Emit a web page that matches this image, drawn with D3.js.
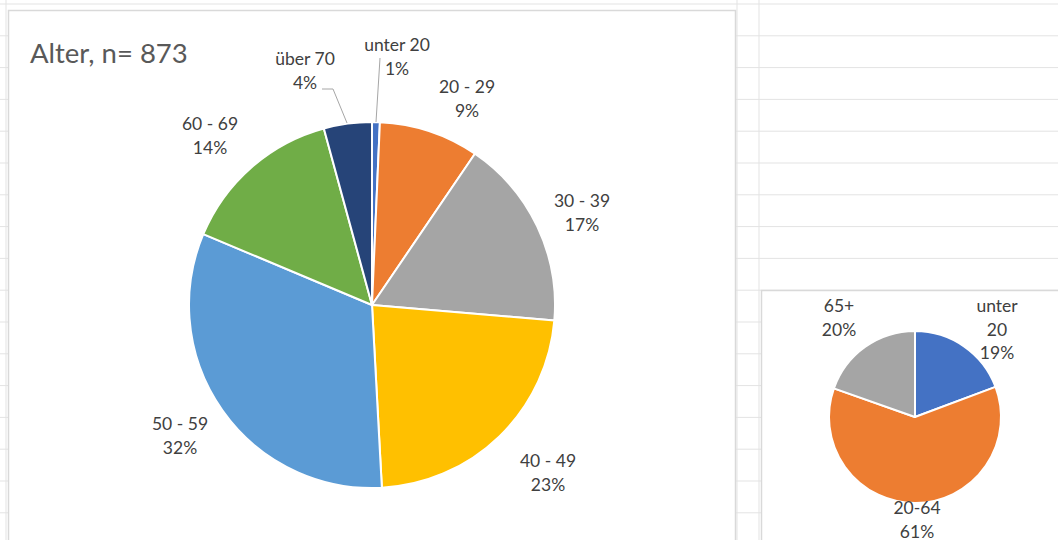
<!DOCTYPE html>
<html>
<head>
<meta charset="utf-8">
<script src="https://cdn.jsdelivr.net/npm/d3@7"></script>
<style>
  html, body { margin: 0; padding: 0; background: #fff; }
  svg { display: block; }
  text { font-family: Lato, "Open Sans", sans-serif; }
</style>
</head>
<body>
<svg id="chart" width="1058" height="540"></svg>
<script>
// Age groups of the survey sample (counts, n = 873)
const ageGroups = ["unter 20", "20 - 29", "30 - 39", "40 - 49", "50 - 59", "60 - 69", "über 70"];
const ageCounts = [6, 77, 147, 199, 281, 126, 37];
const ageColors = ["#4472C4", "#ED7D31", "#A5A5A5", "#FFC000", "#5B9BD5", "#70AD47", "#264478"];

// Reference population shares (percent)
const popGroups = ["unter 20", "20-64", "65+"];
const popShares = [19.3, 61.1, 19.6];
const popColors = ["#4472C4", "#ED7D31", "#A5A5A5"];

const svg = d3.select("#chart");
const W = 1058, H = 540;

// spreadsheet grid in the background
const grid = svg.append("g");
const rowYs = d3.range(4, H, 31.8);
grid.selectAll("line.row").data(rowYs).join("line")
  .attr("x1", 0).attr("x2", W).attr("y1", d => d).attr("y2", d => d)
  .attr("stroke", "#e3e3e3").attr("stroke-width", 1);
[6, 737, 759].forEach(x => {
  grid.append("line").attr("x1", x).attr("x2", x).attr("y1", 0).attr("y2", H)
    .attr("stroke", "#e3e3e3").attr("stroke-width", 1);
});

// chart frames
svg.append("rect").attr("x", 8.5).attr("y", 10.5).attr("width", 727).attr("height", 560)
  .attr("fill", "#fff").attr("stroke", "#d9d9d9").attr("stroke-width", 1.5);
svg.append("rect").attr("x", 761.5).attr("y", 290.5).attr("width", 320).attr("height", 300)
  .attr("fill", "#fff").attr("stroke", "#d9d9d9").attr("stroke-width", 1.5);

const pie = d3.pie().sort(null).value(d => d);
const fmtPct = v => Math.round(v) + "%";

// ---- main pie: age of respondents ----
const total = d3.sum(ageCounts);
const mainC = { x: 372, y: 305 }, mainR = 183;
const mainArc = d3.arc().innerRadius(0).outerRadius(mainR);
const gMain = svg.append("g").attr("transform", `translate(${mainC.x},${mainC.y})`);
gMain.selectAll("path").data(pie(ageCounts)).join("path")
  .attr("d", mainArc)
  .attr("fill", (d, i) => ageColors[i])
  .attr("stroke", "#fff").attr("stroke-width", 2).attr("stroke-linejoin", "round");

svg.append("text").attr("x", 30).attr("y", 63)
  .attr("font-size", 27.5).attr("fill", "#595959")
  .text("Alter, n= " + total);

// label anchor points (centre of the two-line label)
const mainLabelPos = [
  [397, 56], [467, 98], [582, 212], [548, 472], [180, 435], [210, 135], [305, 70]
];
const mainLabels = svg.append("g").attr("font-size", 17.5).attr("fill", "#404040").attr("text-anchor", "middle");
ageGroups.forEach((g, i) => {
  const [x, y] = mainLabelPos[i];
  const t = mainLabels.append("text").attr("x", x).attr("y", y - 5);
  t.append("tspan").attr("x", x).text(g);
  t.append("tspan").attr("x", x).attr("dy", 24).text(fmtPct(ageCounts[i] / total * 100));
});

// leader lines for the two narrow slices
const leader = d3.line();
svg.append("path").attr("d", leader([[380, 58], [376, 122]]))
  .attr("fill", "none").attr("stroke", "#a6a6a6").attr("stroke-width", 1);
svg.append("path").attr("d", leader([[322, 89], [333, 89], [347, 123]]))
  .attr("fill", "none").attr("stroke", "#a6a6a6").attr("stroke-width", 1);

// ---- small pie: population shares ----
const smallC = { x: 915, y: 417 }, smallR = 86;
const smallArc = d3.arc().innerRadius(0).outerRadius(smallR);
const gSmall = svg.append("g").attr("transform", `translate(${smallC.x},${smallC.y})`);
gSmall.selectAll("path").data(pie(popShares)).join("path")
  .attr("d", smallArc)
  .attr("fill", (d, i) => popColors[i])
  .attr("stroke", "#fff").attr("stroke-width", 2).attr("stroke-linejoin", "round");

const smallLabels = svg.append("g").attr("font-size", 17.5).attr("fill", "#404040").attr("text-anchor", "middle");
// unter 20 wraps onto two lines
const smallLabelLines = [["unter", "20"], ["20-64"], ["65+"]];
const smallLabelPos = [[997, 312], [917, 514], [839, 312]];
popGroups.forEach((g, i) => {
  const [x, y] = smallLabelPos[i];
  const t = smallLabels.append("text").attr("x", x).attr("y", y);
  const lines = smallLabelLines[i].concat([fmtPct(popShares[i])]);
  lines.forEach((s, k) => t.append("tspan").attr("x", x).attr("dy", k === 0 ? 0 : 23.5).text(s));
});
</script>
</body>
</html>
